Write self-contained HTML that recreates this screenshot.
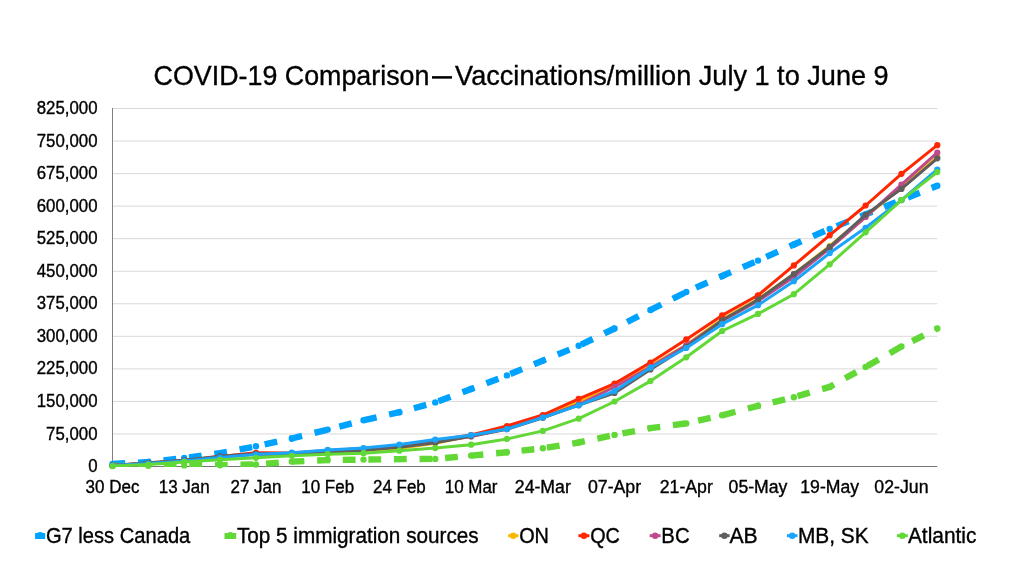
<!DOCTYPE html>
<html><head><meta charset="utf-8"><title>COVID-19 Comparison</title>
<style>
html,body{margin:0;padding:0;background:#fff;}
body{width:1024px;height:576px;overflow:hidden;font-family:"Liberation Sans",sans-serif;}
svg{display:block;will-change:transform;}
text{font-family:"Liberation Sans",sans-serif;fill:#000;stroke:#000;stroke-width:0.35px;}
</style></head><body>
<svg width="1024" height="576" viewBox="0 0 1024 576">
<rect x="0" y="0" width="1024" height="576" fill="#ffffff"/>
<text x="153.6" y="85.1" font-size="27.8" textLength="275.8" lengthAdjust="spacingAndGlyphs">COVID-19 Comparison</text>
<rect x="432" y="76.15" width="20" height="2.5" fill="#000"/>
<text x="455.1" y="85.1" font-size="27.8" textLength="433.6" lengthAdjust="spacingAndGlyphs">Vaccinations/million July 1 to June 9</text>
<defs><clipPath id="plot"><rect x="112.5" y="103.5" width="828.8" height="363.5"/></clipPath></defs>
<line x1="112.5" y1="108.50" x2="937.3" y2="108.50" stroke="#d9d9d9" stroke-width="1"/>
<line x1="112.5" y1="141.05" x2="937.3" y2="141.05" stroke="#d9d9d9" stroke-width="1"/>
<line x1="112.5" y1="173.59" x2="937.3" y2="173.59" stroke="#d9d9d9" stroke-width="1"/>
<line x1="112.5" y1="206.14" x2="937.3" y2="206.14" stroke="#d9d9d9" stroke-width="1"/>
<line x1="112.5" y1="238.68" x2="937.3" y2="238.68" stroke="#d9d9d9" stroke-width="1"/>
<line x1="112.5" y1="271.23" x2="937.3" y2="271.23" stroke="#d9d9d9" stroke-width="1"/>
<line x1="112.5" y1="303.77" x2="937.3" y2="303.77" stroke="#d9d9d9" stroke-width="1"/>
<line x1="112.5" y1="336.32" x2="937.3" y2="336.32" stroke="#d9d9d9" stroke-width="1"/>
<line x1="112.5" y1="368.86" x2="937.3" y2="368.86" stroke="#d9d9d9" stroke-width="1"/>
<line x1="112.5" y1="401.41" x2="937.3" y2="401.41" stroke="#d9d9d9" stroke-width="1"/>
<line x1="112.5" y1="433.95" x2="937.3" y2="433.95" stroke="#d9d9d9" stroke-width="1"/>
<line x1="112.5" y1="108.00" x2="112.5" y2="467.00" stroke="#808080" stroke-width="1"/>
<line x1="112.0" y1="466.50" x2="937.3" y2="466.50" stroke="#757575" stroke-width="1"/>
<text x="36.77" y="114.10" font-size="17.5" textLength="60.73" lengthAdjust="spacingAndGlyphs">825,000</text>
<text x="36.77" y="146.65" font-size="17.5" textLength="60.73" lengthAdjust="spacingAndGlyphs">750,000</text>
<text x="36.77" y="179.19" font-size="17.5" textLength="60.73" lengthAdjust="spacingAndGlyphs">675,000</text>
<text x="36.77" y="211.74" font-size="17.5" textLength="60.73" lengthAdjust="spacingAndGlyphs">600,000</text>
<text x="36.77" y="244.28" font-size="17.5" textLength="60.73" lengthAdjust="spacingAndGlyphs">525,000</text>
<text x="36.77" y="276.83" font-size="17.5" textLength="60.73" lengthAdjust="spacingAndGlyphs">450,000</text>
<text x="36.77" y="309.37" font-size="17.5" textLength="60.73" lengthAdjust="spacingAndGlyphs">375,000</text>
<text x="36.77" y="341.92" font-size="17.5" textLength="60.73" lengthAdjust="spacingAndGlyphs">300,000</text>
<text x="36.77" y="374.46" font-size="17.5" textLength="60.73" lengthAdjust="spacingAndGlyphs">225,000</text>
<text x="36.77" y="407.01" font-size="17.5" textLength="60.73" lengthAdjust="spacingAndGlyphs">150,000</text>
<text x="46.12" y="439.55" font-size="17.5" textLength="51.38" lengthAdjust="spacingAndGlyphs">75,000</text>
<text x="88.16" y="472.10" font-size="17.5" textLength="9.34" lengthAdjust="spacingAndGlyphs">0</text>
<text x="85.61" y="493.2" font-size="17.5" textLength="53.79" lengthAdjust="spacingAndGlyphs">30 Dec</text>
<text x="158.73" y="493.2" font-size="17.5" textLength="50.99" lengthAdjust="spacingAndGlyphs">13 Jan</text>
<text x="230.45" y="493.2" font-size="17.5" textLength="50.99" lengthAdjust="spacingAndGlyphs">27 Jan</text>
<text x="301.24" y="493.2" font-size="17.5" textLength="52.86" lengthAdjust="spacingAndGlyphs">10 Feb</text>
<text x="372.96" y="493.2" font-size="17.5" textLength="52.86" lengthAdjust="spacingAndGlyphs">24 Feb</text>
<text x="444.69" y="493.2" font-size="17.5" textLength="52.84" lengthAdjust="spacingAndGlyphs">10 Mar</text>
<text x="514.84" y="493.2" font-size="17.5" textLength="55.97" lengthAdjust="spacingAndGlyphs">24-Mar</text>
<text x="587.96" y="493.2" font-size="17.5" textLength="53.18" lengthAdjust="spacingAndGlyphs">07-Apr</text>
<text x="659.69" y="493.2" font-size="17.5" textLength="53.18" lengthAdjust="spacingAndGlyphs">21-Apr</text>
<text x="728.60" y="493.2" font-size="17.5" textLength="58.79" lengthAdjust="spacingAndGlyphs">05-May</text>
<text x="800.32" y="493.2" font-size="17.5" textLength="58.79" lengthAdjust="spacingAndGlyphs">19-May</text>
<text x="874.38" y="493.2" font-size="17.5" textLength="54.12" lengthAdjust="spacingAndGlyphs">02-Jun</text>
<polyline points="112.50,464.00 148.36,462.00 184.22,458.00 220.08,453.20 255.94,446.30 291.80,438.50 327.67,429.60 363.53,420.20 399.39,412.20 435.25,402.40 471.11,389.00 506.97,375.40 542.83,360.60 578.69,345.80 614.55,328.50 650.41,310.00 686.27,292.00 722.13,276.00 758.00,260.60 793.86,244.50 829.72,228.90 865.58,214.50 901.44,200.10 937.30,185.70" fill="none" stroke="#00a2ff" stroke-width="6.4" stroke-dasharray="12.8 12.8" clip-path="url(#plot)" stroke-linejoin="round"/>
<g fill="#00a2ff"><circle cx="112.50" cy="464.00" r="3.2"/><circle cx="148.36" cy="462.00" r="3.2"/><circle cx="184.22" cy="458.00" r="3.2"/><circle cx="220.08" cy="453.20" r="3.2"/><circle cx="255.94" cy="446.30" r="3.2"/><circle cx="291.80" cy="438.50" r="3.2"/><circle cx="327.67" cy="429.60" r="3.2"/><circle cx="363.53" cy="420.20" r="3.2"/><circle cx="399.39" cy="412.20" r="3.2"/><circle cx="435.25" cy="402.40" r="3.2"/><circle cx="471.11" cy="389.00" r="3.2"/><circle cx="506.97" cy="375.40" r="3.2"/><circle cx="542.83" cy="360.60" r="3.2"/><circle cx="578.69" cy="345.80" r="3.2"/><circle cx="614.55" cy="328.50" r="3.2"/><circle cx="650.41" cy="310.00" r="3.2"/><circle cx="686.27" cy="292.00" r="3.2"/><circle cx="722.13" cy="276.00" r="3.2"/><circle cx="758.00" cy="260.60" r="3.2"/><circle cx="793.86" cy="244.50" r="3.2"/><circle cx="829.72" cy="228.90" r="3.2"/><circle cx="865.58" cy="214.50" r="3.2"/><circle cx="901.44" cy="200.10" r="3.2"/><circle cx="937.30" cy="185.70" r="3.2"/></g>
<polyline points="112.50,466.00 148.36,465.70 184.22,465.40 220.08,465.20 255.94,464.50 291.80,461.60 327.67,460.10 363.53,459.60 399.39,459.10 435.25,458.90 471.11,455.60 506.97,452.20 542.83,448.30 578.69,442.50 614.55,434.90 650.41,428.10 686.27,423.40 722.13,415.30 758.00,405.80 793.86,397.20 829.72,386.90 865.58,367.00 901.44,346.50 937.30,328.50" fill="none" stroke="#61d836" stroke-width="6.4" stroke-dasharray="12.8 12.8" clip-path="url(#plot)" stroke-linejoin="round"/>
<g fill="#61d836"><circle cx="112.50" cy="466.00" r="3.2"/><circle cx="148.36" cy="465.70" r="3.2"/><circle cx="184.22" cy="465.40" r="3.2"/><circle cx="220.08" cy="465.20" r="3.2"/><circle cx="255.94" cy="464.50" r="3.2"/><circle cx="291.80" cy="461.60" r="3.2"/><circle cx="327.67" cy="460.10" r="3.2"/><circle cx="363.53" cy="459.60" r="3.2"/><circle cx="399.39" cy="459.10" r="3.2"/><circle cx="435.25" cy="458.90" r="3.2"/><circle cx="471.11" cy="455.60" r="3.2"/><circle cx="506.97" cy="452.20" r="3.2"/><circle cx="542.83" cy="448.30" r="3.2"/><circle cx="578.69" cy="442.50" r="3.2"/><circle cx="614.55" cy="434.90" r="3.2"/><circle cx="650.41" cy="428.10" r="3.2"/><circle cx="686.27" cy="423.40" r="3.2"/><circle cx="722.13" cy="415.30" r="3.2"/><circle cx="758.00" cy="405.80" r="3.2"/><circle cx="793.86" cy="397.20" r="3.2"/><circle cx="829.72" cy="386.90" r="3.2"/><circle cx="865.58" cy="367.00" r="3.2"/><circle cx="901.44" cy="346.50" r="3.2"/><circle cx="937.30" cy="328.50" r="3.2"/></g>
<polyline points="112.50,465.50 148.36,463.20 184.22,460.80 220.08,457.00 255.94,454.00 291.80,454.20 327.67,452.20 363.53,450.40 399.39,448.30 435.25,443.30 471.11,436.00 506.97,427.70 542.83,416.70 578.69,401.60 614.55,386.20 650.41,365.80 686.27,345.00 722.13,319.30 758.00,299.00 793.86,274.00 829.72,246.00 865.58,216.40 901.44,188.00 937.30,157.00" fill="none" stroke="#f8ba00" stroke-width="3.0" stroke-linejoin="round" stroke-linecap="round" clip-path="url(#plot)"/>
<g fill="#f8ba00"><circle cx="112.50" cy="465.50" r="3.1"/><circle cx="148.36" cy="463.20" r="3.1"/><circle cx="184.22" cy="460.80" r="3.1"/><circle cx="220.08" cy="457.00" r="3.1"/><circle cx="255.94" cy="454.00" r="3.1"/><circle cx="291.80" cy="454.20" r="3.1"/><circle cx="327.67" cy="452.20" r="3.1"/><circle cx="363.53" cy="450.40" r="3.1"/><circle cx="399.39" cy="448.30" r="3.1"/><circle cx="435.25" cy="443.30" r="3.1"/><circle cx="471.11" cy="436.00" r="3.1"/><circle cx="506.97" cy="427.70" r="3.1"/><circle cx="542.83" cy="416.70" r="3.1"/><circle cx="578.69" cy="401.60" r="3.1"/><circle cx="614.55" cy="386.20" r="3.1"/><circle cx="650.41" cy="365.80" r="3.1"/><circle cx="686.27" cy="345.00" r="3.1"/><circle cx="722.13" cy="319.30" r="3.1"/><circle cx="758.00" cy="299.00" r="3.1"/><circle cx="793.86" cy="274.00" r="3.1"/><circle cx="829.72" cy="246.00" r="3.1"/><circle cx="865.58" cy="216.40" r="3.1"/><circle cx="901.44" cy="188.00" r="3.1"/><circle cx="937.30" cy="157.00" r="3.1"/></g>
<polyline points="112.50,465.50 148.36,463.00 184.22,460.50 220.08,456.50 255.94,452.80 291.80,453.00 327.67,450.50 363.53,448.50 399.39,445.50 435.25,440.60 471.11,435.00 506.97,426.00 542.83,415.00 578.69,398.80 614.55,383.60 650.41,362.50 686.27,339.40 722.13,315.40 758.00,295.30 793.86,265.40 829.72,235.20 865.58,205.50 901.44,173.80 937.30,145.20" fill="none" stroke="#ff2600" stroke-width="3.0" stroke-linejoin="round" stroke-linecap="round" clip-path="url(#plot)"/>
<g fill="#ff2600"><circle cx="112.50" cy="465.50" r="3.1"/><circle cx="148.36" cy="463.00" r="3.1"/><circle cx="184.22" cy="460.50" r="3.1"/><circle cx="220.08" cy="456.50" r="3.1"/><circle cx="255.94" cy="452.80" r="3.1"/><circle cx="291.80" cy="453.00" r="3.1"/><circle cx="327.67" cy="450.50" r="3.1"/><circle cx="363.53" cy="448.50" r="3.1"/><circle cx="399.39" cy="445.50" r="3.1"/><circle cx="435.25" cy="440.60" r="3.1"/><circle cx="471.11" cy="435.00" r="3.1"/><circle cx="506.97" cy="426.00" r="3.1"/><circle cx="542.83" cy="415.00" r="3.1"/><circle cx="578.69" cy="398.80" r="3.1"/><circle cx="614.55" cy="383.60" r="3.1"/><circle cx="650.41" cy="362.50" r="3.1"/><circle cx="686.27" cy="339.40" r="3.1"/><circle cx="722.13" cy="315.40" r="3.1"/><circle cx="758.00" cy="295.30" r="3.1"/><circle cx="793.86" cy="265.40" r="3.1"/><circle cx="829.72" cy="235.20" r="3.1"/><circle cx="865.58" cy="205.50" r="3.1"/><circle cx="901.44" cy="173.80" r="3.1"/><circle cx="937.30" cy="145.20" r="3.1"/></g>
<polyline points="112.50,465.50 148.36,463.20 184.22,460.80 220.08,457.00 255.94,454.00 291.80,454.00 327.67,451.50 363.53,449.50 399.39,446.50 435.25,442.00 471.11,436.50 506.97,428.80 542.83,417.30 578.69,404.50 614.55,387.00 650.41,367.00 686.27,345.30 722.13,321.00 758.00,301.00 793.86,277.00 829.72,248.40 865.58,217.00 901.44,184.60 937.30,152.70" fill="none" stroke="#bf4a8b" stroke-width="3.0" stroke-linejoin="round" stroke-linecap="round" clip-path="url(#plot)"/>
<g fill="#bf4a8b"><circle cx="112.50" cy="465.50" r="3.1"/><circle cx="148.36" cy="463.20" r="3.1"/><circle cx="184.22" cy="460.80" r="3.1"/><circle cx="220.08" cy="457.00" r="3.1"/><circle cx="255.94" cy="454.00" r="3.1"/><circle cx="291.80" cy="454.00" r="3.1"/><circle cx="327.67" cy="451.50" r="3.1"/><circle cx="363.53" cy="449.50" r="3.1"/><circle cx="399.39" cy="446.50" r="3.1"/><circle cx="435.25" cy="442.00" r="3.1"/><circle cx="471.11" cy="436.50" r="3.1"/><circle cx="506.97" cy="428.80" r="3.1"/><circle cx="542.83" cy="417.30" r="3.1"/><circle cx="578.69" cy="404.50" r="3.1"/><circle cx="614.55" cy="387.00" r="3.1"/><circle cx="650.41" cy="367.00" r="3.1"/><circle cx="686.27" cy="345.30" r="3.1"/><circle cx="722.13" cy="321.00" r="3.1"/><circle cx="758.00" cy="301.00" r="3.1"/><circle cx="793.86" cy="277.00" r="3.1"/><circle cx="829.72" cy="248.40" r="3.1"/><circle cx="865.58" cy="217.00" r="3.1"/><circle cx="901.44" cy="184.60" r="3.1"/><circle cx="937.30" cy="152.70" r="3.1"/></g>
<polyline points="112.50,465.50 148.36,462.80 184.22,460.30 220.08,456.30 255.94,453.80 291.80,454.20 327.67,452.20 363.53,450.20 399.39,447.20 435.25,442.70 471.11,436.10 506.97,429.20 542.83,417.80 578.69,405.20 614.55,393.00 650.41,369.50 686.27,346.90 722.13,320.30 758.00,299.70 793.86,274.00 829.72,246.90 865.58,214.80 901.44,188.90 937.30,158.30" fill="none" stroke="#5e5e5e" stroke-width="3.0" stroke-linejoin="round" stroke-linecap="round" clip-path="url(#plot)"/>
<g fill="#5e5e5e"><circle cx="112.50" cy="465.50" r="3.1"/><circle cx="148.36" cy="462.80" r="3.1"/><circle cx="184.22" cy="460.30" r="3.1"/><circle cx="220.08" cy="456.30" r="3.1"/><circle cx="255.94" cy="453.80" r="3.1"/><circle cx="291.80" cy="454.20" r="3.1"/><circle cx="327.67" cy="452.20" r="3.1"/><circle cx="363.53" cy="450.20" r="3.1"/><circle cx="399.39" cy="447.20" r="3.1"/><circle cx="435.25" cy="442.70" r="3.1"/><circle cx="471.11" cy="436.10" r="3.1"/><circle cx="506.97" cy="429.20" r="3.1"/><circle cx="542.83" cy="417.80" r="3.1"/><circle cx="578.69" cy="405.20" r="3.1"/><circle cx="614.55" cy="393.00" r="3.1"/><circle cx="650.41" cy="369.50" r="3.1"/><circle cx="686.27" cy="346.90" r="3.1"/><circle cx="722.13" cy="320.30" r="3.1"/><circle cx="758.00" cy="299.70" r="3.1"/><circle cx="793.86" cy="274.00" r="3.1"/><circle cx="829.72" cy="246.90" r="3.1"/><circle cx="865.58" cy="214.80" r="3.1"/><circle cx="901.44" cy="188.90" r="3.1"/><circle cx="937.30" cy="158.30" r="3.1"/></g>
<polyline points="112.50,465.50 148.36,463.50 184.22,461.00 220.08,457.50 255.94,454.50 291.80,452.70 327.67,449.90 363.53,448.00 399.39,444.50 435.25,439.60 471.11,435.20 506.97,429.10 542.83,417.50 578.69,405.30 614.55,391.00 650.41,367.70 686.27,348.00 722.13,324.20 758.00,305.20 793.86,281.25 829.72,253.10 865.58,227.80 901.44,200.10 937.30,169.50" fill="none" stroke="#1aa5fb" stroke-width="3.0" stroke-linejoin="round" stroke-linecap="round" clip-path="url(#plot)"/>
<g fill="#1aa5fb"><circle cx="112.50" cy="465.50" r="3.1"/><circle cx="148.36" cy="463.50" r="3.1"/><circle cx="184.22" cy="461.00" r="3.1"/><circle cx="220.08" cy="457.50" r="3.1"/><circle cx="255.94" cy="454.50" r="3.1"/><circle cx="291.80" cy="452.70" r="3.1"/><circle cx="327.67" cy="449.90" r="3.1"/><circle cx="363.53" cy="448.00" r="3.1"/><circle cx="399.39" cy="444.50" r="3.1"/><circle cx="435.25" cy="439.60" r="3.1"/><circle cx="471.11" cy="435.20" r="3.1"/><circle cx="506.97" cy="429.10" r="3.1"/><circle cx="542.83" cy="417.50" r="3.1"/><circle cx="578.69" cy="405.30" r="3.1"/><circle cx="614.55" cy="391.00" r="3.1"/><circle cx="650.41" cy="367.70" r="3.1"/><circle cx="686.27" cy="348.00" r="3.1"/><circle cx="722.13" cy="324.20" r="3.1"/><circle cx="758.00" cy="305.20" r="3.1"/><circle cx="793.86" cy="281.25" r="3.1"/><circle cx="829.72" cy="253.10" r="3.1"/><circle cx="865.58" cy="227.80" r="3.1"/><circle cx="901.44" cy="200.10" r="3.1"/><circle cx="937.30" cy="169.50" r="3.1"/></g>
<polyline points="112.50,466.00 148.36,464.50 184.22,461.90 220.08,459.80 255.94,457.80 291.80,455.80 327.67,454.20 363.53,453.20 399.39,450.70 435.25,448.10 471.11,444.70 506.97,438.90 542.83,430.90 578.69,418.70 614.55,401.50 650.41,381.10 686.27,357.30 722.13,331.00 758.00,313.90 793.86,294.20 829.72,264.30 865.58,232.30 901.44,200.10 937.30,172.10" fill="none" stroke="#61d836" stroke-width="3.0" stroke-linejoin="round" stroke-linecap="round" clip-path="url(#plot)"/>
<g fill="#61d836"><circle cx="112.50" cy="466.00" r="3.1"/><circle cx="148.36" cy="464.50" r="3.1"/><circle cx="184.22" cy="461.90" r="3.1"/><circle cx="220.08" cy="459.80" r="3.1"/><circle cx="255.94" cy="457.80" r="3.1"/><circle cx="291.80" cy="455.80" r="3.1"/><circle cx="327.67" cy="454.20" r="3.1"/><circle cx="363.53" cy="453.20" r="3.1"/><circle cx="399.39" cy="450.70" r="3.1"/><circle cx="435.25" cy="448.10" r="3.1"/><circle cx="471.11" cy="444.70" r="3.1"/><circle cx="506.97" cy="438.90" r="3.1"/><circle cx="542.83" cy="430.90" r="3.1"/><circle cx="578.69" cy="418.70" r="3.1"/><circle cx="614.55" cy="401.50" r="3.1"/><circle cx="650.41" cy="381.10" r="3.1"/><circle cx="686.27" cy="357.30" r="3.1"/><circle cx="722.13" cy="331.00" r="3.1"/><circle cx="758.00" cy="313.90" r="3.1"/><circle cx="793.86" cy="294.20" r="3.1"/><circle cx="829.72" cy="264.30" r="3.1"/><circle cx="865.58" cy="232.30" r="3.1"/><circle cx="901.44" cy="200.10" r="3.1"/><circle cx="937.30" cy="172.10" r="3.1"/></g>
<rect x="35.10" y="533" width="10.10" height="6" fill="#00a2ff"/><circle cx="40.10" cy="535.4" r="3.3" fill="#00a2ff"/>
<text x="45.90" y="542.8" font-size="21.2" textLength="144.40" lengthAdjust="spacingAndGlyphs">G7 less Canada</text>
<rect x="224.50" y="533" width="11.70" height="6" fill="#61d836"/><circle cx="230.30" cy="535.4" r="3.3" fill="#61d836"/>
<text x="236.90" y="542.8" font-size="21.2" textLength="241.80" lengthAdjust="spacingAndGlyphs">Top 5 immigration sources</text>
<line x1="508.1" y1="535.70" x2="518.4" y2="535.70" stroke="#f8ba00" stroke-width="3"/><circle cx="513.25" cy="535.70" r="3.2" fill="#f8ba00"/>
<text x="519.15" y="542.8" font-size="21.2" textLength="29.80" lengthAdjust="spacingAndGlyphs">ON</text>
<line x1="578.4" y1="535.70" x2="589.4" y2="535.70" stroke="#ff2600" stroke-width="3"/><circle cx="583.90" cy="535.70" r="3.2" fill="#ff2600"/>
<text x="590.15" y="542.8" font-size="21.2" textLength="29.70" lengthAdjust="spacingAndGlyphs">QC</text>
<line x1="649.7" y1="535.70" x2="660.6" y2="535.70" stroke="#bf4a8b" stroke-width="3"/><circle cx="655.15" cy="535.70" r="3.2" fill="#bf4a8b"/>
<text x="661.35" y="542.8" font-size="21.2" textLength="28.25" lengthAdjust="spacingAndGlyphs">BC</text>
<line x1="719.2" y1="535.70" x2="729.6" y2="535.70" stroke="#5e5e5e" stroke-width="3"/><circle cx="724.40" cy="535.70" r="3.2" fill="#5e5e5e"/>
<text x="729.45" y="542.8" font-size="21.2" textLength="28.30" lengthAdjust="spacingAndGlyphs">AB</text>
<line x1="786.9" y1="535.70" x2="797.5" y2="535.70" stroke="#1aa5fb" stroke-width="3"/><circle cx="792.20" cy="535.70" r="3.2" fill="#1aa5fb"/>
<text x="797.90" y="542.8" font-size="21.2" textLength="70.75" lengthAdjust="spacingAndGlyphs">MB, SK</text>
<line x1="896.9" y1="535.70" x2="907.8" y2="535.70" stroke="#61d836" stroke-width="3"/><circle cx="902.35" cy="535.70" r="3.2" fill="#61d836"/>
<text x="907.90" y="542.8" font-size="21.2" textLength="68.55" lengthAdjust="spacingAndGlyphs">Atlantic</text>
</svg>
</body></html>
